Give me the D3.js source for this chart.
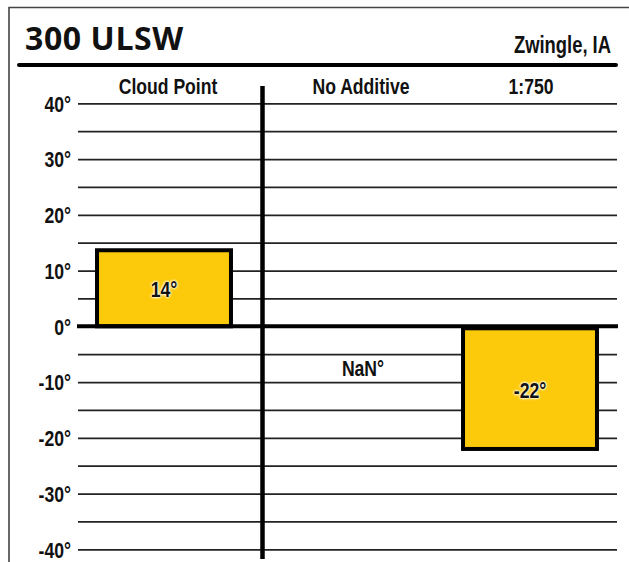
<!DOCTYPE html>
<html>
<head>
<meta charset="utf-8">
<script src="https://cdn.jsdelivr.net/npm/d3@7"></script>
<style>
  html, body { margin: 0; padding: 0; background: #fff; }
  svg { display: block; }
  .cond { font-family: "Liberation Sans", Arial, sans-serif; font-weight: 700; }
</style>
</head>
<body>
<script>
// ---- data ----
const titleText = "300 ULSW";
const locationText = "Zwingle, IA";
const categories = ["Cloud Point", "No Additive", "1:750"];
const values = [14, NaN, -22];
const yTickValues = [-40, -30, -20, -10, 0, 10, 20, 30, 40];
const gridValues = [-40, -35, -30, -25, -20, -15, -10, -5, 0, 5, 10, 15, 20, 25, 30, 35, 40];

// ---- layout ----
const W = 629, H = 562;
const plotLeft = 78, plotRight = 617;
const headerNudge = [4, 14, 1];
const SX = 0.8; // horizontal condensing

const svg = d3.select("body").append("svg").attr("width", W).attr("height", H);

function cond(sel, px, py, size) {
  sel.attr("class", "cond").attr("x", 0).attr("y", 0)
    .style("font-size", size + "px")
    .attr("transform", (d, i) => `translate(${typeof px === "function" ? px(d, i) : px},${typeof py === "function" ? py(d, i) : py}) scale(${SX},1)`);
  return sel;
}

// frame (top + left)
svg.append("path")
  .attr("d", `M9,${H} L9,7.5 L${W},7.5`)
  .attr("fill", "none").attr("stroke", "#444").attr("stroke-width", 1.6);

// title
svg.append("text").attr("x", 25).attr("y", 50)
  .style("font-family", "'Open Sans', 'Liberation Sans', sans-serif")
  .style("font-weight", 700).style("font-size", "32px").style("letter-spacing", "0.6px")
  .attr("fill", "#111")
  .text(titleText);
cond(svg.append("text"), 611, 53, 23)
  .attr("text-anchor", "end").attr("fill", "#111")
  .text(locationText);
svg.append("line").attr("x1", 19).attr("x2", 616).attr("y1", 65).attr("y2", 65)
  .attr("stroke", "#000").attr("stroke-width", 4).attr("stroke-linecap", "round");

// scales
const y = d3.scaleLinear().domain([-40, 40]).range([549.3, 103.3]);
const x = d3.scaleBand().domain(categories).range([72.5, 621.5])
  .paddingInner(0.268).paddingOuter(0.134);

// gridlines
const grid = svg.append("g").attr("transform", `translate(${plotLeft},0)`)
  .call(d3.axisLeft(y).tickValues(gridValues).tickSize(-(plotRight - plotLeft)).tickFormat(""));
grid.select(".domain").remove();
grid.selectAll(".tick line").attr("stroke", "#222").attr("stroke-width", 1.8);

// y axis labels
const yAxis = svg.append("g").attr("transform", `translate(${plotLeft},0)`)
  .call(d3.axisLeft(y).tickValues(yTickValues).tickSize(0).tickPadding(7).tickFormat(d => d + "°"));
yAxis.select(".domain").remove();
cond(yAxis.selectAll("text"), -7, 0, 22)
  .attr("fill", "#111").attr("dy", "0.36em").attr("text-anchor", "end");

// column headers
cond(svg.append("g").selectAll("text").data(categories).join("text"),
     (d, i) => x(d) + x.bandwidth() / 2 + headerNudge[i], 94, 22)
  .attr("text-anchor", "middle").attr("fill", "#111")
  .text(d => d);

// bars
const data = categories.map((c, i) => ({ c, v: values[i] }));
const bw = 4;
svg.append("g").selectAll("rect").data(data.filter(d => !isNaN(d.v))).join("rect")
  .attr("x", d => x(d.c))
  .attr("width", x.bandwidth())
  .attr("y", d => d.v >= 0 ? y(d.v) + bw / 2 : y(0) + bw / 2)
  .attr("height", d => Math.abs(y(d.v) - y(0)) - bw / 2)
  .attr("fill", "#FCCA0B").attr("stroke", "#000").attr("stroke-width", bw);

// zero line
svg.append("line").attr("x1", plotLeft - 1).attr("x2", plotRight + 1)
  .attr("y1", y(0)).attr("y2", y(0))
  .attr("stroke", "#000").attr("stroke-width", 4);

// divider
svg.append("line").attr("x1", 262.5).attr("x2", 262.5).attr("y1", 86).attr("y2", 559)
  .attr("stroke", "#000").attr("stroke-width", 4.5);

// bar labels
cond(svg.append("g").selectAll("text").data(data).join("text"),
     (d, i) => x(d.c) + x.bandwidth() / 2 + (isNaN(d.v) ? headerNudge[i] + 2 : 0),
     d => isNaN(d.v) ? y(-7.5) : y(d.v / 2) + 2, 22)
  .attr("dy", "0.36em")
  .attr("text-anchor", "middle").attr("fill", "#111")
  .style("text-shadow", d => isNaN(d.v) ? "none" : "0 0 3px #fff, 0 0 3px #fff, 0 0 2px #fff")
  .text(d => d.v + "°");
</script>
</body>
</html>
